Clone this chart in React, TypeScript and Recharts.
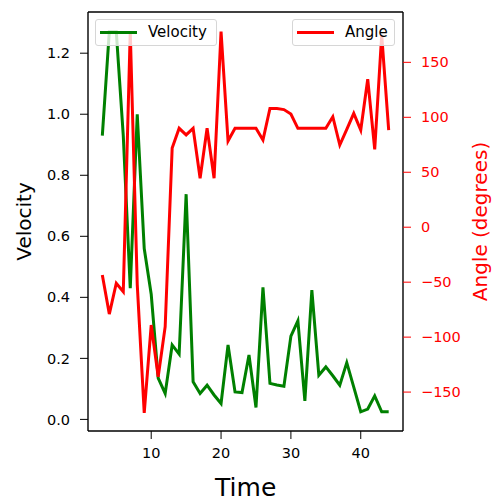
import React from 'react';
import { LineChart, Line, XAxis, YAxis } from 'recharts';

// time steps along the x axis
const TIME = [3, 4, 5, 6, 7, 8, 9, 10, 11, 12, 13, 14, 15, 16, 17, 18, 19, 20, 21, 22, 23,
  24, 25, 26, 27, 28, 29, 30, 31, 32, 33, 34, 35, 36, 37, 38, 39, 40, 41, 42, 43, 44];

const VELOCITY = [0.93, 1.27, 1.27, 0.93, 0.43, 1.0, 0.56, 0.41, 0.135, 0.085, 0.244, 0.214,
  0.738, 0.123, 0.085, 0.112, 0.08, 0.052, 0.244, 0.09, 0.088, 0.211, 0.039, 0.433, 0.118,
  0.113, 0.109, 0.273, 0.323, 0.061, 0.424, 0.145, 0.172, 0.143, 0.112, 0.186, 0.106, 0.025,
  0.034, 0.077, 0.025, 0.025];

const ANGLE = [-43.5, -79, -51, -58.7, 178, -52, -169, -89, -136, -90.5, 72, 90, 84, 90, 44.5,
  90, 44.5, 178, 78.4, 90, 90, 90, 90, 79.3, 108, 108, 107, 103, 90, 90, 90, 90, 90, 100.5,
  74.8, 89, 103.6, 88.4, 134.6, 70.9, 175, 88.4];

const TIME_TICKS = [10, 20, 30, 40];
const VELOCITY_TICKS = [0, 0.2, 0.4, 0.6, 0.8, 1.0, 1.2];
const ANGLE_TICKS = [-150, -100, -50, 0, 50, 100, 150];

const FONT = '"DejaVu Sans", sans-serif';
const GREEN = '#008000';
const RED = '#ff0000';

const data = TIME.map((t, i) => ({ t, velocity: VELOCITY[i], angle: ANGLE[i] }));

function LegendBox({ name, color, left, width }: { name: string; color: string; left: number; width: number }) {
  return (
    <div
      style={{
        position: 'absolute', left, top: 19, width, height: 27,
        border: '1px solid #d6d6d6', borderRadius: 3, background: 'rgba(255,255,255,0.8)',
        fontFamily: FONT, fontSize: 15, color: '#000', boxSizing: 'border-box',
      }}
    >
      <svg width={40} height={27} style={{ position: 'absolute', left: 4, top: 0 }}>
        <line x1={0} x2={37} y1={12.5} y2={12.5} stroke={color} strokeWidth={3} />
      </svg>
      <span style={{ position: 'absolute', left: 52, top: 3, lineHeight: '18px' }}>{name}</span>
    </div>
  );
}

export default function App() {
  return (
    <div style={{ position: 'absolute', left: 0, top: 0, width: 493, height: 502, background: '#fff' }}>
      <LineChart width={493} height={502} data={data} margin={{ top: 11, right: 0, bottom: 0, left: 0 }}>
        <XAxis
          dataKey="t"
          type="number"
          domain={[0.95, 46.05]}
          ticks={TIME_TICKS}
          allowDataOverflow
          height={71}
          axisLine={{ stroke: '#000', strokeWidth: 1.4 }}
          tickLine={{ stroke: '#000' }}
          tickSize={8}
          tickMargin={9}
          tick={{ fill: '#000', fontSize: 14.5, fontFamily: FONT }}
          label={{
            content: () => (
              <text x={245.7} y={496} textAnchor="middle" fontSize={25} fontFamily={FONT} fill="#000">Time</text>
            ),
          }}
        />
        <XAxis
          xAxisId="top"
          dataKey="t"
          type="number"
          orientation="top"
          domain={[0.95, 46.05]}
          height={1}
          ticks={TIME_TICKS}
          tick={false}
          tickLine={false}
          axisLine={{ stroke: '#000', strokeWidth: 1.4 }}
        />
        <YAxis
          yAxisId="left"
          width={88}
          domain={[-0.038, 1.335]}
          ticks={VELOCITY_TICKS}
          allowDataOverflow
          axisLine={{ stroke: '#000', strokeWidth: 1.4 }}
          tickLine={{ stroke: '#000' }}
          tickSize={8}
          tickMargin={10}
          tick={{ fill: '#000', fontSize: 14.5, fontFamily: FONT }}
          tickFormatter={(v: number) => v.toFixed(1)}
          label={{
            content: () => (
              <text x={31} y={221.5} transform="rotate(-90, 31, 221.5)" textAnchor="middle"
                fontSize={20} fontFamily={FONT} fill="#000">Velocity</text>
            ),
          }}
        />
        <YAxis
          yAxisId="right"
          orientation="right"
          width={90}
          domain={[-185.4, 195.8]}
          ticks={ANGLE_TICKS}
          allowDataOverflow
          axisLine={{ stroke: '#000', strokeWidth: 1.4 }}
          tickLine={{ stroke: RED }}
          tickSize={8}
          tickMargin={10}
          tick={{ fill: RED, fontSize: 14.5, fontFamily: FONT }}
          tickFormatter={(v: number) => (v < 0 ? '\u2212' + Math.abs(v) : String(v))}
          label={{
            content: () => (
              <text x={487} y={221.5} transform="rotate(-90, 487, 221.5)" textAnchor="middle"
                fontSize={20} fontFamily={FONT} fill={RED}>Angle (degrees)</text>
            ),
          }}
        />
        <Line yAxisId="left" dataKey="velocity" stroke={GREEN} strokeWidth={3} dot={false} isAnimationActive={false} />
        <Line yAxisId="right" dataKey="angle" stroke={RED} strokeWidth={3} dot={false} isAnimationActive={false} />
      </LineChart>
      <LegendBox name="Velocity" color={GREEN} left={95} width={122} />
      <LegendBox name="Angle" color={RED} left={292} width={103} />
    </div>
  );
}
